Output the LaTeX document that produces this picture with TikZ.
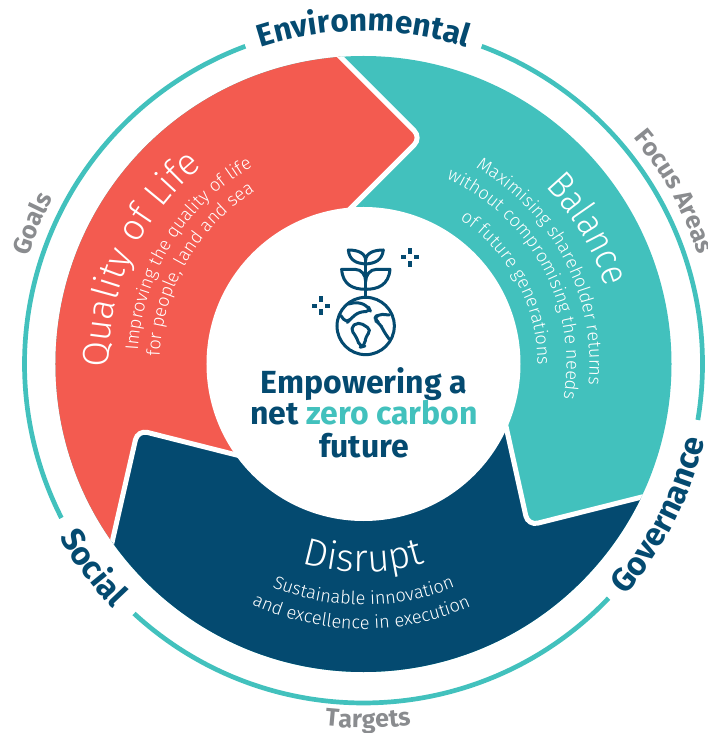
\documentclass[tikz,border=0pt]{standalone}
\usepackage{fontspec}
\usetikzlibrary{decorations.text}
\newfontfamily\fbold{Fira Sans}[UprightFont=*,BoldFont=* Bold]
\newfontfamily\flight{Fira Sans Light}
\newfontfamily\flightn{Fira Sans Light}[FakeStretch=0.88]
\definecolor{coral}{HTML}{F35B50}
\definecolor{aqua}{HTML}{42C1BD}
\definecolor{navy}{HTML}{044A70}
\definecolor{stone}{HTML}{8A8C8F}
\newcommand\arctext[5]{\path[decorate,decoration={text along path,text align=center,text={|#4|#5}}] (#2:#1) arc[start angle=#2,end angle=#3,radius=#1];}
\newcommand\arrowhead[4]{%
  \fill[#4,rounded corners=10] #1 -- #2 -- #3 -- cycle;
  \draw[white,line width=5,rounded corners=10] #1 -- #2 -- #3;}
\newcommand\tfont{\flight\fontsize{37}{37}\selectfont\color{white}}
\newcommand\tnfont{\flightn\fontsize{38}{38}\selectfont\color{white}}
\newcommand\dfont{\flight\fontsize{38.5}{38}\selectfont\color{white}}
\newcommand\sfont{\flight\fontsize{18.2}{18}\selectfont\color{white}}
\newcommand\nfont{\fbold\bfseries\fontsize{32.5}{32}\selectfont\color{navy}}
\newcommand\efont{\fbold\bfseries\fontsize{31.5}{32}\selectfont\color{navy}}
\newcommand\gfont{\fbold\bfseries\fontsize{25}{25}\selectfont\color{stone}}
\begin{document}
\begin{tikzpicture}[x=1pt,y=1pt,
  ringline/.style={aqua,line width=4.7},
  iconline/.style={navy,line width=3,line join=round,line cap=round},
  centretext/.style={font=\fbold\bfseries\fontsize{32}{32}\selectfont,text=navy,anchor=base,inner sep=0pt}]
\useasboundingbox (-363.5,-369) rectangle (343.5,364);
% outer ring
\draw[ringline] (110.4:339) arc[start angle=110.4,end angle=207,radius=339];
\draw[ringline] (227.4:339) arc[start angle=227.4,end angle=316.3,radius=339];
\draw[ringline] (-9.5:339) arc[start angle=-9.5,end angle=69.6,radius=339];
% disc with three arrows
\begin{scope}
\clip (0,0) circle[radius=308];
\fill[aqua] (-400,-400) rectangle (400,400);
\fill[coral] (0,0) -- (-12.5,156) -- (-23,307) -- (-30,400) -- (-400,400) -- (-400,-230) -- (-251,-176.5) -- (-127,-91) -- cycle;
\fill[navy] (0,0) -- (-127,-91) -- (-251,-176.5) -- (-300,-400) -- (400,-400) -- (400,-199) -- (276.5,-133.5) -- (142.5,-62.5) -- cycle;
\arrowhead{(-30,314)}{(57.75,226.25)}{(-18,150.5)}{coral}
\arrowhead{(-252.8,-184.3)}{(-225.8,-66)}{(-119,-93)}{navy}
\arrowhead{(284,-131.6)}{(164.5,-161.6)}{(140.8,-54.7)}{aqua}
\end{scope}
\fill[white] (0,0) circle[radius=157];
% arrow texts
\arctext{255}{203}{107}{\tfont}{Quality of Life}
\arctext{226}{196}{100}{\sfont}{Improving the quality of life}
\arctext{204}{198}{102}{\sfont}{for people, land and sea}
\arctext{254}{80}{-18}{\tnfont}{Balance}
\arctext{226}{75}{-20}{\sfont}{Maximising shareholder returns}
\arctext{203}{80}{-24}{\sfont}{without compromising the needs}
\arctext{174}{80}{-24}{\sfont}{of future generations}
\arctext{208}{220}{320}{\dfont}{Disrupt}
\arctext{241}{225}{315}{\sfont}{Sustainable innovation}
\arctext{265}{224}{315}{\sfont}{and excellence in execution}
% outer labels
\arctext{333}{130}{50}{\efont}{Environmental}
\arctext{350}{187}{247}{\nfont}{Social}
\arctext{349}{-67}{13}{\nfont}{Governance}
\arctext{352}{187}{127}{\gfont}{Goals}
\arctext{352}{59}{-1}{\gfont}{Focus Areas}
\arctext{364}{240}{301.4}{\gfont}{Targets}
% centre text
\node[centretext] (l1) at (0.5,-30) {Empowering a};
\node[centretext] (l2) at (0.5,-61) {net \textcolor{aqua}{zero carbon}};
\node[centretext] (l3) at (0.5,-93) {future};
% icon
\begin{scope}[shift={(-63.5,124)},x=0.3333pt,y=-0.3333pt]
\draw[iconline] (197,258) circle[radius=86];
\draw[iconline] (197,60) -- (197,172);
\draw[iconline] (197,72) .. controls (170,70) and (148,62) .. (145,30) .. controls (175,30) and (197,40) .. (197,62) .. controls (197,40) and (220,30) .. (250,30) .. controls (246,62) and (224,70) .. (197,72);
\draw[iconline] (197,148) .. controls (160,148) and (128,135) .. (125,88) -- (165,88) .. controls (185,88) and (197,105) .. (197,125) .. controls (197,105) and (210,88) .. (230,88) -- (270,88) .. controls (266,135) and (234,148) .. (197,148);
\draw[iconline,rounded corners=5] (145,192) -- (175,186) -- (205,200) -- (212,215) -- (178,215) -- (152,236) -- (140,250) -- (122,226);
\draw[iconline,rounded corners=5] (150,265) -- (175,245) -- (215,270) -- (196,290) -- (195,318) -- (180,322) -- (170,292) -- cycle;
\draw[iconline,rounded corners=5] (268,225) -- (232,222) -- (222,240) -- (240,250) -- (250,272) -- (268,298);
\foreach \cx/\cy in {330/52,63/197}{
  \fill[navy] (\cx-6,\cy-28) rectangle (\cx+6,\cy-11);
  \fill[navy] (\cx-6,\cy+11) rectangle (\cx+6,\cy+28);
  \fill[navy] (\cx-28,\cy-6) rectangle (\cx-11,\cy+6);
  \fill[navy] (\cx+11,\cy-6) rectangle (\cx+28,\cy+6);
}
\end{scope}
\end{tikzpicture}
\end{document}
